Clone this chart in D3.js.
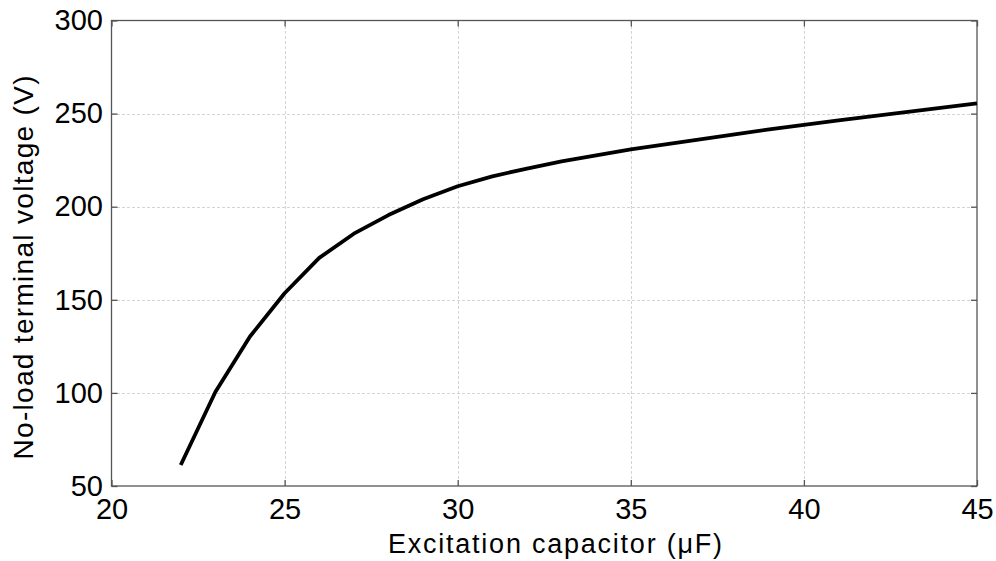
<!DOCTYPE html>
<html>
<head>
<meta charset="utf-8">
<script src="https://cdn.jsdelivr.net/npm/d3@7"></script>
<style>
  html, body { margin: 0; padding: 0; background: #fff; }
  svg { display: block; }
  text { font-family: "Liberation Sans", Arial, Helvetica, sans-serif; fill: #000; }
</style>
</head>
<body>
<svg id="chart" width="996" height="561"></svg>
<script>
// Excitation capacitance (µF) and the resulting no-load terminal voltage (V)
const capacitance = [22, 23, 24, 25, 26, 27, 28, 29, 30, 31, 32, 33, 34, 35,
                     36, 37, 38, 39, 40, 41, 42, 43, 44, 45];
const voltage = [61.3, 100.5, 130.3, 153.5, 172.5, 185.5, 195.5, 204, 211, 216.3,
                 220.5, 224.3, 227.6, 230.8, 233.5, 236.2, 238.9, 241.5, 244,
                 246.3, 248.6, 250.9, 253.2, 255.5];
const xTicks = [20, 25, 30, 35, 40, 45];
const yTicks = [50, 100, 150, 200, 250, 300];
const xLabel = "Excitation capacitor (\u03bcF)";
const yLabel = "No-load terminal voltage (V)";

const svg = d3.select("#chart");
const plotLeft = 111.5, plotRight = 977, plotTop = 20.5, plotBottom = 486;

const x = d3.scaleLinear().domain([20, 45]).range([plotLeft, plotRight]);
const y = d3.scaleLinear().domain([50, 300]).range([plotBottom, plotTop]);

// dotted grid at the interior ticks
const grid = svg.append("g").attr("stroke", "#d4d4d4").attr("stroke-width", 1)
  .attr("stroke-dasharray", "3,2").attr("shape-rendering", "crispEdges");
grid.selectAll(".gx").data(xTicks.slice(1, -1)).join("line")
  .attr("x1", d => Math.round(x(d)) + 0.5).attr("x2", d => Math.round(x(d)) + 0.5)
  .attr("y1", plotTop).attr("y2", plotBottom);
grid.selectAll(".gy").data(yTicks.slice(1, -1)).join("line")
  .attr("y1", d => Math.round(y(d)) + 0.5).attr("y2", d => Math.round(y(d)) + 0.5)
  .attr("x1", plotLeft).attr("x2", plotRight);

// axes with inward ticks on all four sides
const tickLen = 6;
function styleAxis(g) {
  g.select(".domain").remove();
  g.selectAll(".tick line").attr("stroke", "#555").attr("stroke-width", 1.3);
  g.selectAll(".tick text").attr("font-size", 29)
    .attr("font-family", "'Liberation Sans', Arial, sans-serif").attr("fill", "#000");
}
svg.append("g").attr("transform", `translate(0,${plotBottom})`)
  .call(d3.axisBottom(x).tickValues(xTicks).tickSizeInner(-tickLen).tickSizeOuter(0).tickPadding(12.5))
  .call(styleAxis);
svg.append("g").attr("transform", `translate(0,${plotTop})`)
  .call(d3.axisTop(x).tickValues(xTicks).tickSizeInner(-tickLen).tickSizeOuter(0).tickFormat(""))
  .call(styleAxis);
svg.append("g").attr("transform", `translate(${plotLeft},0)`)
  .call(d3.axisLeft(y).tickValues(yTicks).tickSizeInner(-tickLen).tickSizeOuter(0).tickPadding(8.5))
  .call(styleAxis);
svg.append("g").attr("transform", `translate(${plotRight},0)`)
  .call(d3.axisRight(y).tickValues(yTicks).tickSizeInner(-tickLen).tickSizeOuter(0).tickFormat(""))
  .call(styleAxis);

// frame
svg.append("rect").attr("x", plotLeft).attr("y", plotTop)
  .attr("width", plotRight - plotLeft).attr("height", plotBottom - plotTop)
  .attr("fill", "none").attr("stroke", "#555").attr("stroke-width", 1.3);

// curve
const pts = capacitance.map((c, i) => [c, voltage[i]]);
svg.append("path").datum(pts)
  .attr("fill", "none").attr("stroke", "#000").attr("stroke-width", 3.8)
  .attr("stroke-linejoin", "round")
  .attr("d", d3.line().x(d => x(d[0])).y(d => y(d[1])));

// axis titles
svg.append("text").attr("x", 555).attr("y", 553)
  .attr("text-anchor", "middle").attr("font-size", 27)
  .attr("textLength", 334).attr("lengthAdjust", "spacing").text(xLabel);
svg.append("text").attr("transform", "translate(33,267.5) rotate(-90)")
  .attr("text-anchor", "middle").attr("font-size", 28)
  .attr("textLength", 384).attr("lengthAdjust", "spacing").text(yLabel);
</script>
</body>
</html>
